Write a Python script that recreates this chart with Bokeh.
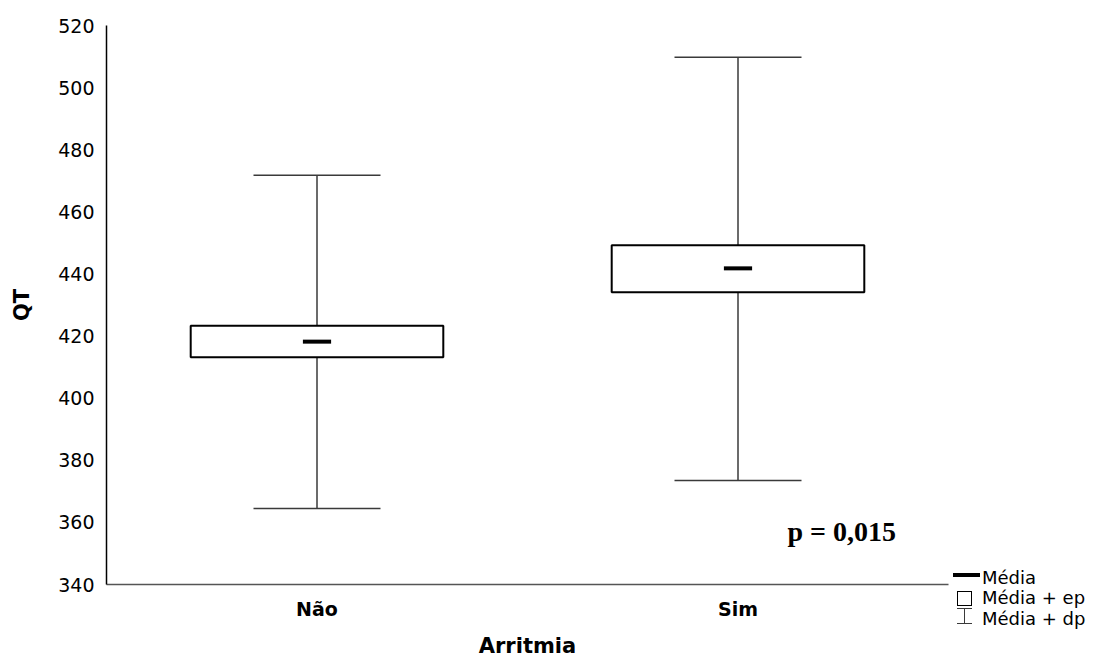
from bokeh.plotting import figure
from bokeh.models import (FactorRange, Range1d, Whisker, TeeHead, ColumnDataSource,
                          Label, SingleIntervalTicker, Div)
from bokeh.layouts import row
from bokeh.embed import file_html
from bokeh.resources import INLINE

# ---- data ----
categories = ["Não", "Sim"]
means = [418.2, 441.8]
se_lower = [413.2, 434.1]
se_upper = [423.3, 449.2]
sd_lower = [364.5, 373.5]
sd_upper = [471.8, 509.8]
y_ticks_interval = 20
p_text = "p = 0,015"
legend_labels = ["Média", "Média + ep", "Média + dp"]
x_title = "Arritmia"
y_title = "QT"

SANS = "DejaVu Sans"
WH = "#3a3a3a"
H = 660

src = ColumnDataSource(dict(cat=categories, mean=means, se_lo=se_lower, se_hi=se_upper,
                            sd_lo=sd_lower, sd_hi=sd_upper))

p = figure(x_range=FactorRange(factors=categories, range_padding=0),
           y_range=Range1d(340, 520), title=None,
           width=952, height=H, output_backend="svg", toolbar_location=None,
           min_border_left=106, min_border_right=4, min_border_top=25,
           min_border_bottom=H - 584)
p.outline_line_color = None
p.grid.visible = False
p.background_fill_color = "white"

# whiskers (mean +/- sd)
wh = Whisker(source=src, base="cat", lower="sd_lo", upper="sd_hi", dimension="height",
             line_color=WH, line_width=1.5, level="underlay",
             upper_head=TeeHead(size=127, line_color=WH, line_width=1.5),
             lower_head=TeeHead(size=127, line_color=WH, line_width=1.5))
p.add_layout(wh)

# boxes (mean +/- se)
p.vbar(x="cat", bottom="se_lo", top="se_hi", width=0.6, source=src,
       fill_color="white", line_color="black", line_width=2)

# mean markers
p.rect(x="cat", y="mean", width=0.067, height=4, height_units="screen", source=src,
       fill_color="black", line_color=None)

# p-value
p.add_layout(Label(x=1.6176, y=357.0, text=p_text, text_font="Liberation Serif",
                   text_font_style="bold", text_font_size="28px", text_color="black",
                   text_baseline="alphabetic"))

# axes
p.yaxis.ticker = SingleIntervalTicker(interval=y_ticks_interval)
for ax in (p.xaxis[0], p.yaxis[0]):
    ax.major_tick_in = 0
    ax.major_tick_out = 0
    ax.minor_tick_line_color = None
    ax.major_label_text_color = "black"
    ax.axis_label_text_color = "black"
    ax.axis_label_text_font = SANS
    ax.axis_label_text_font_style = "bold"
    ax.major_label_text_font = SANS

p.yaxis.axis_line_color = "black"
p.yaxis.axis_line_width = 1.5
p.yaxis.major_label_text_font_size = "19px"
p.yaxis.major_label_standoff = 8
p.yaxis.axis_label = y_title
p.yaxis.axis_label_text_font_size = "21px"
p.yaxis.axis_label_standoff = 21

p.xaxis.axis_line_color = "#555555"
p.xaxis.axis_line_width = 1.5
p.xaxis.major_label_text_font_size = "19px"
p.xaxis.major_label_text_font_style = "bold"
p.xaxis.major_label_standoff = 13
p.xaxis.axis_label = x_title
p.xaxis.axis_label_text_font_size = "21px"
p.xaxis.axis_label_standoff = 11

# ---- legend panel (HTML, to the right of the plot) ----
text_tops = [569, 589, 610]
items = "".join(
    f'<div style="position:absolute;left:30px;top:{t}px;height:18px;line-height:18px;'
    f'white-space:nowrap;">{lab}</div>'
    for lab, t in zip(legend_labels, text_tops))
legend_html = (
    f'<div style="position:relative;width:150px;height:{H}px;font-family:\'DejaVu Sans\';'
    'font-size:18px;color:#000;">'
    '<div style="position:absolute;left:1px;top:573px;width:27px;height:4px;background:#000;"></div>'
    '<div style="position:absolute;left:5px;top:591px;width:15px;height:15px;box-sizing:border-box;'
    'border:1.5px solid #000;background:#fff;"></div>'
    f'<div style="position:absolute;left:12px;top:608px;width:1px;height:16px;background:{WH};"></div>'
    f'<div style="position:absolute;left:5px;top:608px;width:15px;height:1px;background:{WH};"></div>'
    f'<div style="position:absolute;left:5px;top:623px;width:15px;height:1px;background:{WH};"></div>'
    + items + '</div>')
legend = Div(text=legend_html, width=150, height=H, margin=(0, 0, 0, 0))

layout = row(p, legend)
open("out.html", "w").write(file_html(layout, INLINE))
